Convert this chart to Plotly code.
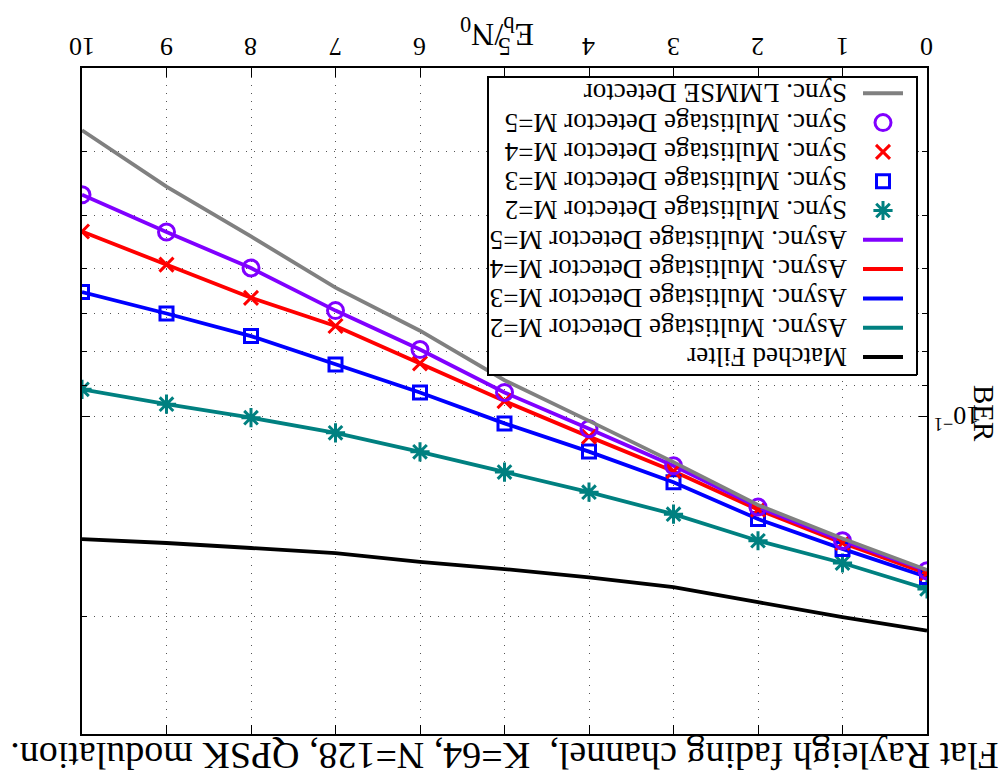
import plotly.graph_objects as go

# ---------------- data ----------------
ebn0 = [0, 1, 2, 3, 4, 5, 6, 7, 8, 9, 10]
ber_matched = [0.2099, 0.2003, 0.1902, 0.1806, 0.1745, 0.1696, 0.1654, 0.1605, 0.1577, 0.1550, 0.1529]
ber_m2 = [0.1817, 0.1661, 0.1538, 0.1403, 0.1300, 0.1213, 0.1131, 0.1059, 0.1005, 0.0959, 0.0911]
ber_m3 = [0.1743, 0.1582, 0.1427, 0.1256, 0.1130, 0.1025, 0.0921, 0.0836, 0.0758, 0.0701, 0.0651]
ber_m4 = [0.1722, 0.1550, 0.1381, 0.1209, 0.1073, 0.0949, 0.0833, 0.0732, 0.0664, 0.0592, 0.0528]
ber_m5 = [0.1706, 0.1538, 0.1369, 0.1187, 0.1044, 0.0921, 0.0794, 0.0694, 0.0599, 0.0529, 0.0465]
ber_lmmse = [0.1702, 0.1526, 0.1359, 0.1172, 0.1016, 0.0883, 0.0744, 0.0641, 0.0537, 0.0452, 0.0372]

x_ticks = [0, 1, 2, 3, 4, 5, 6, 7, 8, 9, 10]
x_tick_text = ["0", "1", "2", "3", "4", "5", "6", "7", "8", "9", "10"]
y_major = [0.1]
y_major_text = ["10<sup>\u22121</sup>"]
y_minor = [0.04, 0.05, 0.06, 0.07, 0.08, 0.09, 0.2]

title_text = "Flat Rayleigh fading channel,  K=64, N=128, QPSK modulation."
xlabel = "E<sub>b</sub>/N<sub>0</sub>"
ylabel = "BER"

# ---------------- styles ----------------
FONT = "Liberation Serif"
C_BLACK = "#000000"
C_TEAL = "#008080"
C_BLUE = "#0000FF"
C_RED = "#FF0000"
C_PURPLE = "#8000FF"
C_GRAY = "#808080"

# series: (name, values, color, mode, symbol)
series = [
    ("Matched Filter", ber_matched, C_BLACK, "lines", None),
    ("Async. Multistage Detector M=2", ber_m2, C_TEAL, "lines", None),
    ("Async. Multistage Detector M=3", ber_m3, C_BLUE, "lines", None),
    ("Async. Multistage Detector M=4", ber_m4, C_RED, "lines", None),
    ("Async. Multistage Detector M=5", ber_m5, C_PURPLE, "lines", None),
    ("Sync. Multistage Detector M=2", ber_m2, C_TEAL, "markers", "asterisk-open"),
    ("Sync. Multistage Detector M=3", ber_m3, C_BLUE, "markers", "square-open"),
    ("Sync. Multistage Detector M=4", ber_m4, C_RED, "markers", "x-thin-open"),
    ("Sync. Multistage Detector M=5", ber_m5, C_PURPLE, "markers", "circle-open"),
    ("Sync. LMMSE Detector", ber_lmmse, C_GRAY, "lines", None),
]
msize = {"asterisk-open": 16, "square-open": 13, "x-thin-open": 14, "circle-open": 16}

# plot area in pixels (figure is drawn upright and then shown rotated 180 deg)
W, H = 999, 783
L, R, T, B = 72, 917, 49, 715


def px(xp):
    return (xp - L) / (R - L)


def py(yp):
    return (B - yp) / (B - T)


fig = go.Figure()
for name, vals, col, mode, sym in series:
    if mode == "lines":
        fig.add_trace(go.Scatter(x=ebn0, y=vals, mode="lines", name=name,
                                 line=dict(color=col, width=3.8), showlegend=False))
    else:
        fig.add_trace(go.Scatter(x=ebn0, y=vals, mode="markers", name=name,
                                 marker=dict(symbol=sym, size=msize[sym], color=col,
                                             opacity=1, line=dict(color=col, width=3)),
                                 showlegend=False))

# ---------------- custom legend (pixel frame on overlay axes) ----------------
leg_x0, leg_x1, leg_y0, leg_y1 = 82, 511, 408, 706
row0, row_step = 426, 29.3
sample_x0, sample_x1, text_x = 96, 136, 150

# white legend box with black border
fig.add_trace(go.Scatter(x=[leg_x0, leg_x1, leg_x1, leg_x0, leg_x0],
                         y=[leg_y0, leg_y0, leg_y1, leg_y1, leg_y0],
                         xaxis="x2", yaxis="y2", mode="lines", fill="toself",
                         fillcolor="white", line=dict(color="black", width=2),
                         showlegend=False, hoverinfo="skip"))

shapes = []
annotations = []
mk_x, mk_y, mk_sym, mk_col, mk_size = [], [], [], [], []
for i, (name, vals, col, mode, sym) in enumerate(series):
    yy = row0 + i * row_step
    if mode == "lines":
        shapes.append(dict(type="line", xref="x2", yref="y2", x0=sample_x0, x1=sample_x1,
                           y0=yy, y1=yy, line=dict(color=col, width=4), layer="above"))
    else:
        mk_x.append((sample_x0 + sample_x1) / 2)
        mk_y.append(yy)
        mk_sym.append(sym)
        mk_col.append(col)
        mk_size.append(msize[sym])
    annotations.append(dict(text=name, xref="x2", yref="y2", x=text_x, y=yy,
                            xanchor="left", yanchor="middle", showarrow=False,
                            font=dict(family=FONT, size=27, color="black")))

fig.add_trace(go.Scatter(x=mk_x, y=mk_y, xaxis="x2", yaxis="y2", mode="markers",
                         marker=dict(symbol=mk_sym, size=mk_size, color=mk_col, opacity=1,
                                     line=dict(color=mk_col, width=3)),
                         showlegend=False, hoverinfo="skip"))

# x tick labels, placed on the x axis scale slightly closer to the frame
for v, t in zip(x_ticks, x_tick_text):
    annotations.append(dict(text=t, xref="x", yref="paper", x=v, y=py(736.5),
                            xanchor="center", yanchor="middle", showarrow=False,
                            font=dict(family=FONT, size=26, color="black")))

# axis titles
annotations.append(dict(text=xlabel, xref="paper", yref="paper", x=px(502), y=py(750),
                        xanchor="center", yanchor="middle", showarrow=False,
                        font=dict(family=FONT, size=32, color="black")))
annotations.append(dict(text=ylabel, xref="paper", yref="paper", x=px(15), y=py(369),
                        xanchor="center", yanchor="middle", showarrow=False, textangle=-90,
                        font=dict(family=FONT, size=29, color="black")))

dotgrid = dict(gridcolor="#555555", gridwidth=1, griddash="1px,7px")

fig.update_layout(
    width=W, height=H,
    margin=dict(l=L, r=W - R, t=T, b=H - B),
    paper_bgcolor="white", plot_bgcolor="white",
    showlegend=False,
    font=dict(family=FONT, color="black"),
    title=dict(text=title_text, x=0.5, xref="paper", xanchor="center",
               y=1 - 27 / H, yref="container", yanchor="middle",
               font=dict(family=FONT, size=38, color="black")),
    xaxis=dict(range=[0, 10], tickmode="array", tickvals=x_ticks, showticklabels=False,
               ticks="inside", ticklen=9, tickwidth=1, tickcolor="black",
               showline=True, linecolor="black", linewidth=1.5, mirror="ticks",
               showgrid=True, zeroline=False, **dotgrid),
    yaxis=dict(type="log", range=[-1.5229, -0.5229], tickmode="array",
               tickvals=y_major, ticktext=y_major_text,
               ticks="inside", ticklen=8, tickwidth=1, tickcolor="black",
               showline=True, linecolor="black", linewidth=1.5, mirror="ticks",
               showgrid=True, zeroline=False, **dotgrid,
               tickfont=dict(family=FONT, size=26, color="black"),
               minor=dict(tickvals=y_minor, ticks="inside", ticklen=5, tickcolor="black",
                          showgrid=True, **dotgrid)),
    xaxis2=dict(range=[L, R], overlaying="x", visible=False, fixedrange=True),
    yaxis2=dict(range=[B, T], overlaying="y", visible=False, fixedrange=True),
    shapes=shapes,
    annotations=annotations,
)

# the reference chart is shown upside down: rotate the finished figure by 180 degrees
post = ("var gd=document.getElementById('{plot_id}');"
        "gd.style.transformOrigin='50% 50%';gd.style.transform='rotate(180deg)';")
fig.write_html("out.html", config={"displayModeBar": False}, post_script=post)
